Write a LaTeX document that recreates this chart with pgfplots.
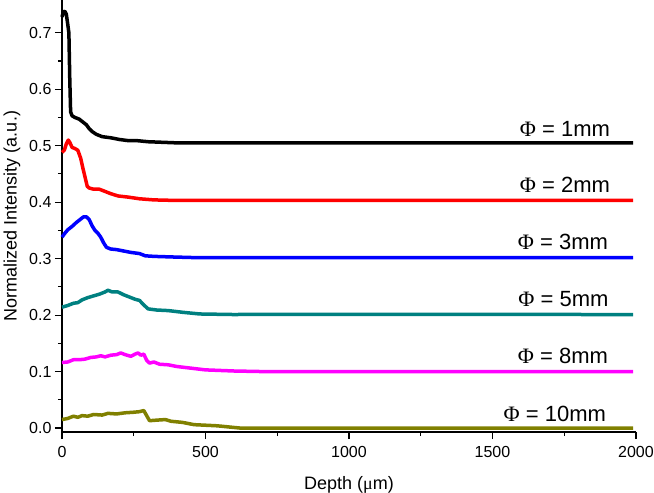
\documentclass[border=0pt]{standalone}
\usepackage{pgfplots}
\pgfplotsset{compat=1.18}
\usepackage{fontspec}
\setmainfont{Liberation Sans}
\newfontfamily\phifont{Liberation Serif}
\definecolor{cteal}{RGB}{0,128,128}
\definecolor{colive}{RGB}{128,128,0}
\definecolor{cmag}{RGB}{255,0,255}
\definecolor{cred}{RGB}{255,0,0}
\definecolor{cblue}{RGB}{0,0,255}
\begin{document}
\begin{tikzpicture}
\begin{axis}[
  scale only axis,
  width=574pt, height=432pt,
  xmin=0, xmax=2000, ymin=-0.007, ymax=0.758,
  axis x line=bottom, axis y line=left,
  axis line style={-, line width=1.3pt},
  tick align=outside,
  major tick length=7pt, minor tick length=4pt,
  every tick/.style={black, line width=1.1pt},
  xtick={0,500,1000,1500,2000},
  minor x tick num=1,
  ytick={0,0.1,0.2,0.3,0.4,0.5,0.6,0.7},
  minor y tick num=1,
  yticklabel style={/pgf/number format/fixed, /pgf/number format/fixed zerofill, /pgf/number format/precision=1},
  xticklabel style={/pgf/number format/1000 sep={}, yshift=-4pt},
  /pgf/number format/assume math mode=true,
  tick label style={font=\fontsize{16}{19}\selectfont},
  label style={font=\fontsize{18}{21}\selectfont},
  xlabel={Depth ({\phifont μ}m)},
  ylabel={Normalized Intensity (a.u.)},
  xlabel style={yshift=-12pt},
  ylabel style={yshift=2pt},
  clip=false,
  every axis plot/.style={line width=3.5pt, line join=round, no markers},
]
\addplot[black] coordinates {
(0,0.728) (5,0.737) (10,0.738) (15,0.733) (20,0.715) (24,0.700) (27,0.620) (30,0.560)
(35,0.553) (45,0.550) (60,0.547) (75,0.541) (85,0.537) (95,0.530) (105,0.525) (120,0.520)
(140,0.516) (170,0.514) (200,0.511) (230,0.509) (260,0.509) (300,0.507) (350,0.506) (400,0.505) (1990,0.505)};
\addplot[cred] coordinates {
(0,0.488) (8,0.492) (15,0.503) (22,0.510) (28,0.505) (35,0.497) (45,0.495) (55,0.492)
(65,0.478) (72,0.462) (80,0.445) (88,0.428) (95,0.425) (110,0.423) (130,0.423) (150,0.419)
(170,0.415) (195,0.411) (230,0.409) (270,0.406) (320,0.404) (400,0.403) (1990,0.403)};
\addplot[cblue] coordinates {
(0,0.338) (10,0.345) (20,0.351) (35,0.357) (50,0.364) (65,0.370) (75,0.374) (85,0.374)
(95,0.369) (105,0.358) (115,0.350) (125,0.345) (135,0.338) (145,0.328) (155,0.320) (170,0.317)
(190,0.316) (210,0.314) (240,0.311) (270,0.309) (290,0.305) (320,0.304) (380,0.303) (450,0.302) (1990,0.302)};
\addplot[cteal] coordinates {
(0,0.214) (20,0.217) (40,0.221) (55,0.222) (70,0.227) (90,0.231) (110,0.234) (130,0.237)
(150,0.241) (160,0.244) (175,0.241) (195,0.241) (215,0.236) (235,0.232) (255,0.228) (270,0.226)
(285,0.218) (300,0.211) (330,0.209) (370,0.208) (420,0.205) (480,0.202) (600,0.201) (700,0.2015) (1990,0.201)};
\addplot[cmag] coordinates {
(0,0.116) (20,0.117) (40,0.121) (60,0.121) (80,0.122) (100,0.125) (120,0.126) (135,0.128)
(150,0.126) (170,0.129) (190,0.130) (205,0.133) (220,0.130) (240,0.127) (255,0.131) (265,0.133)
(275,0.129) (285,0.131) (295,0.120) (305,0.115) (320,0.117) (340,0.113) (370,0.112) (400,0.109)
(450,0.106) (500,0.103) (600,0.101) (700,0.100) (1990,0.100)};
\addplot[colive] coordinates {
(0,0.015) (20,0.017) (40,0.021) (55,0.019) (70,0.022) (90,0.021) (110,0.024) (140,0.023)
(160,0.026) (190,0.025) (220,0.027) (250,0.028) (270,0.029) (285,0.031) (295,0.022) (305,0.013)
(330,0.014) (360,0.015) (380,0.012) (420,0.010) (460,0.006) (500,0.005) (540,0.004) (580,0.002)
(620,0.000) (1990,0.000)};
\begin{scope}[every node/.style={anchor=base east, font=\fontsize{22}{26}\selectfont, inner sep=0pt}]
\node at (axis cs:1910,0.517) {{\phifont Φ} = 1mm};
\node at (axis cs:1910,0.417) {{\phifont Φ} = 2mm};
\node at (axis cs:1903,0.316) {{\phifont Φ} = 3mm};
\node at (axis cs:1905,0.215) {{\phifont Φ} = 5mm};
\node at (axis cs:1903,0.114) {{\phifont Φ} = 8mm};
\node at (axis cs:1896,0.012) {{\phifont Φ} = 10mm};
\end{scope}
\end{axis}
\pgfresetboundingbox
\useasboundingbox (-62pt,-61pt) rectangle (592pt,432pt);
\end{tikzpicture}
\end{document}
